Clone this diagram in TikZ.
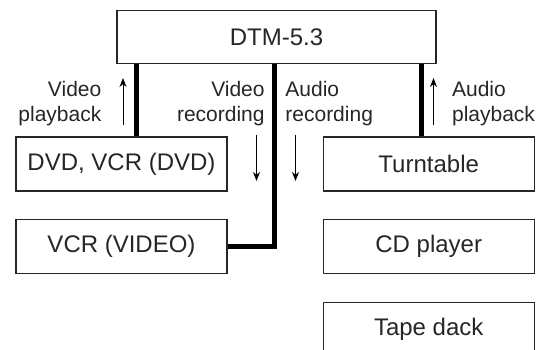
\documentclass[tikz,border=0pt]{standalone}
\usepackage{fontspec}
\setmainfont{Liberation Sans}
\usetikzlibrary{arrows.meta,positioning}

\begin{document}
\begin{tikzpicture}[x=0.5pt, y=-0.5pt, font=\fontsize{12}{12.5}\selectfont,
  unit/.style={rectangle, draw=black!85, line width=0.6pt, minimum width=105.5pt, minimum height=27pt, inner sep=0pt, text=black!85},
  bus/.style={line width=2.5pt},
  sig/.style={-{Stealth[length=4.5pt,width=3.5pt]}, line width=0.5pt},
  lbl/.style={inner sep=0pt, text=black!85, font=\fontsize{10.5}{12.5}\selectfont}]
\clip (0,0) rectangle (545,349);
\node[unit, minimum width=159.5pt, minimum height=26.5pt] (dtm) at (276.5,37.3) {DTM-5.3};
\node[unit] (dvd) at (121.5,164) {DVD, VCR (DVD)};
\node[unit, below=13.5pt of dvd] (vcr) {VCR (VIDEO)};
\node[unit, right=47.5pt of dvd] (turn) {Turntable};
\node[unit, below=13.5pt of turn] (cd) {CD player};
\node[unit, below=14pt of cd] (tape) {Tape dack};
% thick lines
\coordinate (vb) at ([xshift=7.5pt]dvd.north);
\coordinate (ab) at ([xshift=-3.75pt]turn.north);
\draw[bus] (vb) -- (vb |- dtm.south);
\draw[bus] ([xshift=-1pt]dtm.south) |- (vcr.east);
\draw[bus] (ab) -- (ab |- dtm.south);
% signal direction
\coordinate (vpa) at (123,125);   \coordinate (vpb) at (123,78);
\coordinate (vra) at (256.5,135); \coordinate (vrb) at (256.5,181);
\coordinate (ara) at (295.5,135); \coordinate (arb) at (295.5,181);
\coordinate (apa) at (433.5,125); \coordinate (apb) at (433.5,78);
\draw[sig] (vpa) -- (vpb);
\draw[sig] (vra) -- (vrb);
\draw[sig] (ara) -- (arb);
\draw[sig] (apa) -- (apb);
\node[lbl, align=right, anchor=east] (vp) at (101.7,104) {Video\\playback};
\node[lbl, align=right, anchor=east] (vr) at (265,104) {Video\\recording};
\node[lbl, align=left, anchor=west] (ar) at (285,104) {Audio\\recording};
\node[lbl, align=left, anchor=west] (ap) at (451.7,104) {Audio\\playback};
\end{tikzpicture}
\end{document}
